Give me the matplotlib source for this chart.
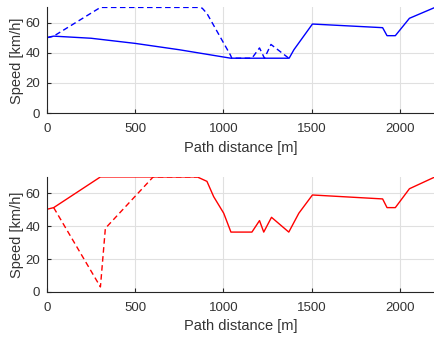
import matplotlib
matplotlib.use("Agg")
import matplotlib.pyplot as plt

# Top plot data
top_solid_x = [0, 38, 250, 500, 750, 1042, 1373, 1400, 1505, 1903, 1928, 1975, 2055, 2200]
top_solid_y = [50, 51, 49.6, 46.2, 42.0, 36.4, 36.4, 42, 59, 56.6, 51.3, 51.3, 62.8, 70]
top_dash_x = [0, 38, 303, 855, 880, 907, 1040, 1048, 1162, 1205, 1233, 1270, 1371]
top_dash_y = [50, 51, 70, 70, 69.5, 66, 38.5, 36.4, 36.4, 43.2, 36.4, 45.5, 36.4]

# Bottom plot data
bot_solid_x = [0, 38, 303, 852, 907, 945, 1002, 1043, 1162, 1205, 1229, 1273, 1371, 1428, 1505, 1903, 1928, 1975, 2055, 2200]
bot_solid_y = [50.3, 51.3, 70, 70, 67.3, 58, 47.9, 36.4, 36.4, 43.4, 36.4, 45.4, 36.4, 47.9, 59, 56.6, 51.3, 51.3, 62.8, 70]
bot_dash_x = [38, 303, 331, 602, 852]
bot_dash_y = [51.3, 3, 38.7, 70, 70]

xticks = [0, 500, 1000, 1500, 2000]
yticks = [0, 20, 40, 60]

plt.rcParams['font.family'] = ['Liberation Sans', 'DejaVu Sans']
fig = plt.figure(figsize=(4.35, 3.37), dpi=100)
ax1 = fig.add_axes([0.108, 0.664, 0.892, 0.314])
ax2 = fig.add_axes([0.108, 0.134, 0.892, 0.341])

txt = '#333333'
for ax in (ax1, ax2):
    ax.set_xlim(0, 2200)
    ax.set_ylim(0, 70)
    ax.set_xticks(xticks)
    ax.set_yticks(yticks)
    ax.grid(True, color='#e0e0e0', linewidth=0.8)
    ax.set_axisbelow(True)
    for s in ('top', 'right'):
        ax.spines[s].set_visible(False)
    for s in ('left', 'bottom'):
        ax.spines[s].set_color('#262626')
        ax.spines[s].set_linewidth(0.8)
    ax.tick_params(direction='in', length=3, width=0.8, colors='#262626',
                   labelcolor=txt, labelsize=9.5)
    ax.tick_params(axis='x', pad=7)
    ax.tick_params(axis='y', pad=5)
    ax.set_xlabel('Path distance [m]', fontsize=10.5, color=txt, labelpad=4)
    ax.set_ylabel('Speed [km/h]', fontsize=10.5, color=txt, labelpad=1)

ax1.plot(top_dash_x, top_dash_y, color='#0000ff', lw=1.0, ls=(0, (4, 2.5)))
ax1.plot(top_solid_x, top_solid_y, color='#0000ff', lw=1.0)
ax2.plot(bot_dash_x, bot_dash_y, color='#ff0000', lw=1.0, ls=(0, (4, 2.5)))
ax2.plot(bot_solid_x, bot_solid_y, color='#ff0000', lw=1.0)

fig.savefig('out.png', dpi=100)
